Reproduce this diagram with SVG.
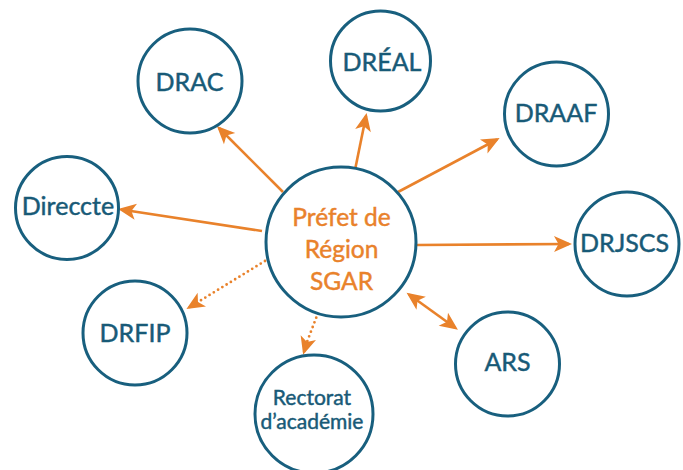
<svg xmlns="http://www.w3.org/2000/svg" width="683" height="470" viewBox="0 0 683 470">
  <defs>
    <style>
      .node { fill: #ffffff; stroke: #185f7e; stroke-width: 3; }
      .lbl { font-family: Lato, "Open Sans", "Liberation Sans", sans-serif; font-size: 25px; fill: #185a77; stroke: #185a77; stroke-width: 0.45; text-anchor: middle; }
      .small { font-size: 21px; }
      .hub { fill: #e9822b; stroke: #e9822b; font-size: 24.5px; }
      .link { stroke: #e9822b; stroke-width: 2.6; fill: none; }
      .dotted { stroke-dasharray: 0 5; stroke-linecap: round; stroke-width: 2.8; }
    </style>
    <marker id="arrow" viewBox="-16 -9 20 18" refX="0" refY="0" markerWidth="20" markerHeight="18" markerUnits="userSpaceOnUse" orient="auto-start-reverse">
      <path d="M3,0 L-15,-8 L-10.5,0 L-15,8 Z" fill="#e9822b"/>
    </marker>
  </defs>

  <rect width="683" height="470" fill="#ffffff"/>

  <!-- connectors from the hub to each office -->
  <g id="connectors">
    <line class="link" x1="283" y1="192" x2="219" y2="128" marker-end="url(#arrow)"/>
    <line class="link" x1="355" y1="170" x2="366" y2="116" marker-end="url(#arrow)"/>
    <line class="link" x1="398" y1="192" x2="497" y2="139.5" marker-end="url(#arrow)"/>
    <line class="link" x1="262" y1="231" x2="121" y2="209.5" marker-end="url(#arrow)"/>
    <line class="link" x1="417" y1="245" x2="569" y2="244" marker-end="url(#arrow)"/>
    <line class="link" x1="409" y1="294.5" x2="455.5" y2="328" marker-start="url(#arrow)" marker-end="url(#arrow)"/>
    <line class="link dotted" x1="265" y1="261" x2="198" y2="302"/>
    <line class="link" x1="198" y1="302" x2="189" y2="307.5" marker-end="url(#arrow)"/>
    <line class="link dotted" x1="318" y1="313" x2="307" y2="342"/>
    <line class="link" x1="307" y1="342" x2="304" y2="352" marker-end="url(#arrow)"/>
  </g>

  <g id="hub">
    <circle class="node" cx="341" cy="242" r="75"/>
    <text class="lbl hub" x="341.5" y="226">Préfet de</text>
    <text class="lbl hub" x="341.5" y="258">Région</text>
    <text class="lbl hub" x="341.5" y="290">SGAR</text>
  </g>

  <g id="drac">
    <circle class="node" cx="190" cy="81" r="52"/>
    <text class="lbl" x="189.5" y="90.5">DRAC</text>
  </g>

  <g id="dreal">
    <circle class="node" cx="380.5" cy="61" r="50"/>
    <text class="lbl" x="382" y="70.5">DRÉAL</text>
  </g>

  <g id="draaf">
    <circle class="node" cx="556.5" cy="114" r="52"/>
    <text class="lbl" x="556" y="121.5">DRAAF</text>
  </g>

  <g id="direccte">
    <circle class="node" cx="67" cy="208" r="51.5"/>
    <text class="lbl" x="68" y="215">Direccte</text>
  </g>

  <g id="drjscs">
    <circle class="node" cx="627" cy="244" r="52"/>
    <text class="lbl" x="624.5" y="251.5">DRJSCS</text>
  </g>

  <g id="drfip">
    <circle class="node" cx="135" cy="333" r="52"/>
    <text class="lbl" x="135" y="341.5">DRFIP</text>
  </g>

  <g id="ars">
    <circle class="node" cx="507.5" cy="364" r="52"/>
    <text class="lbl" x="507.5" y="370.5">ARS</text>
  </g>

  <g id="rectorat">
    <circle class="node" cx="314" cy="414" r="59"/>
    <text class="lbl small" x="312" y="405">Rectorat</text>
    <text class="lbl small" x="312" y="429">d’académie</text>
  </g>
</svg>
